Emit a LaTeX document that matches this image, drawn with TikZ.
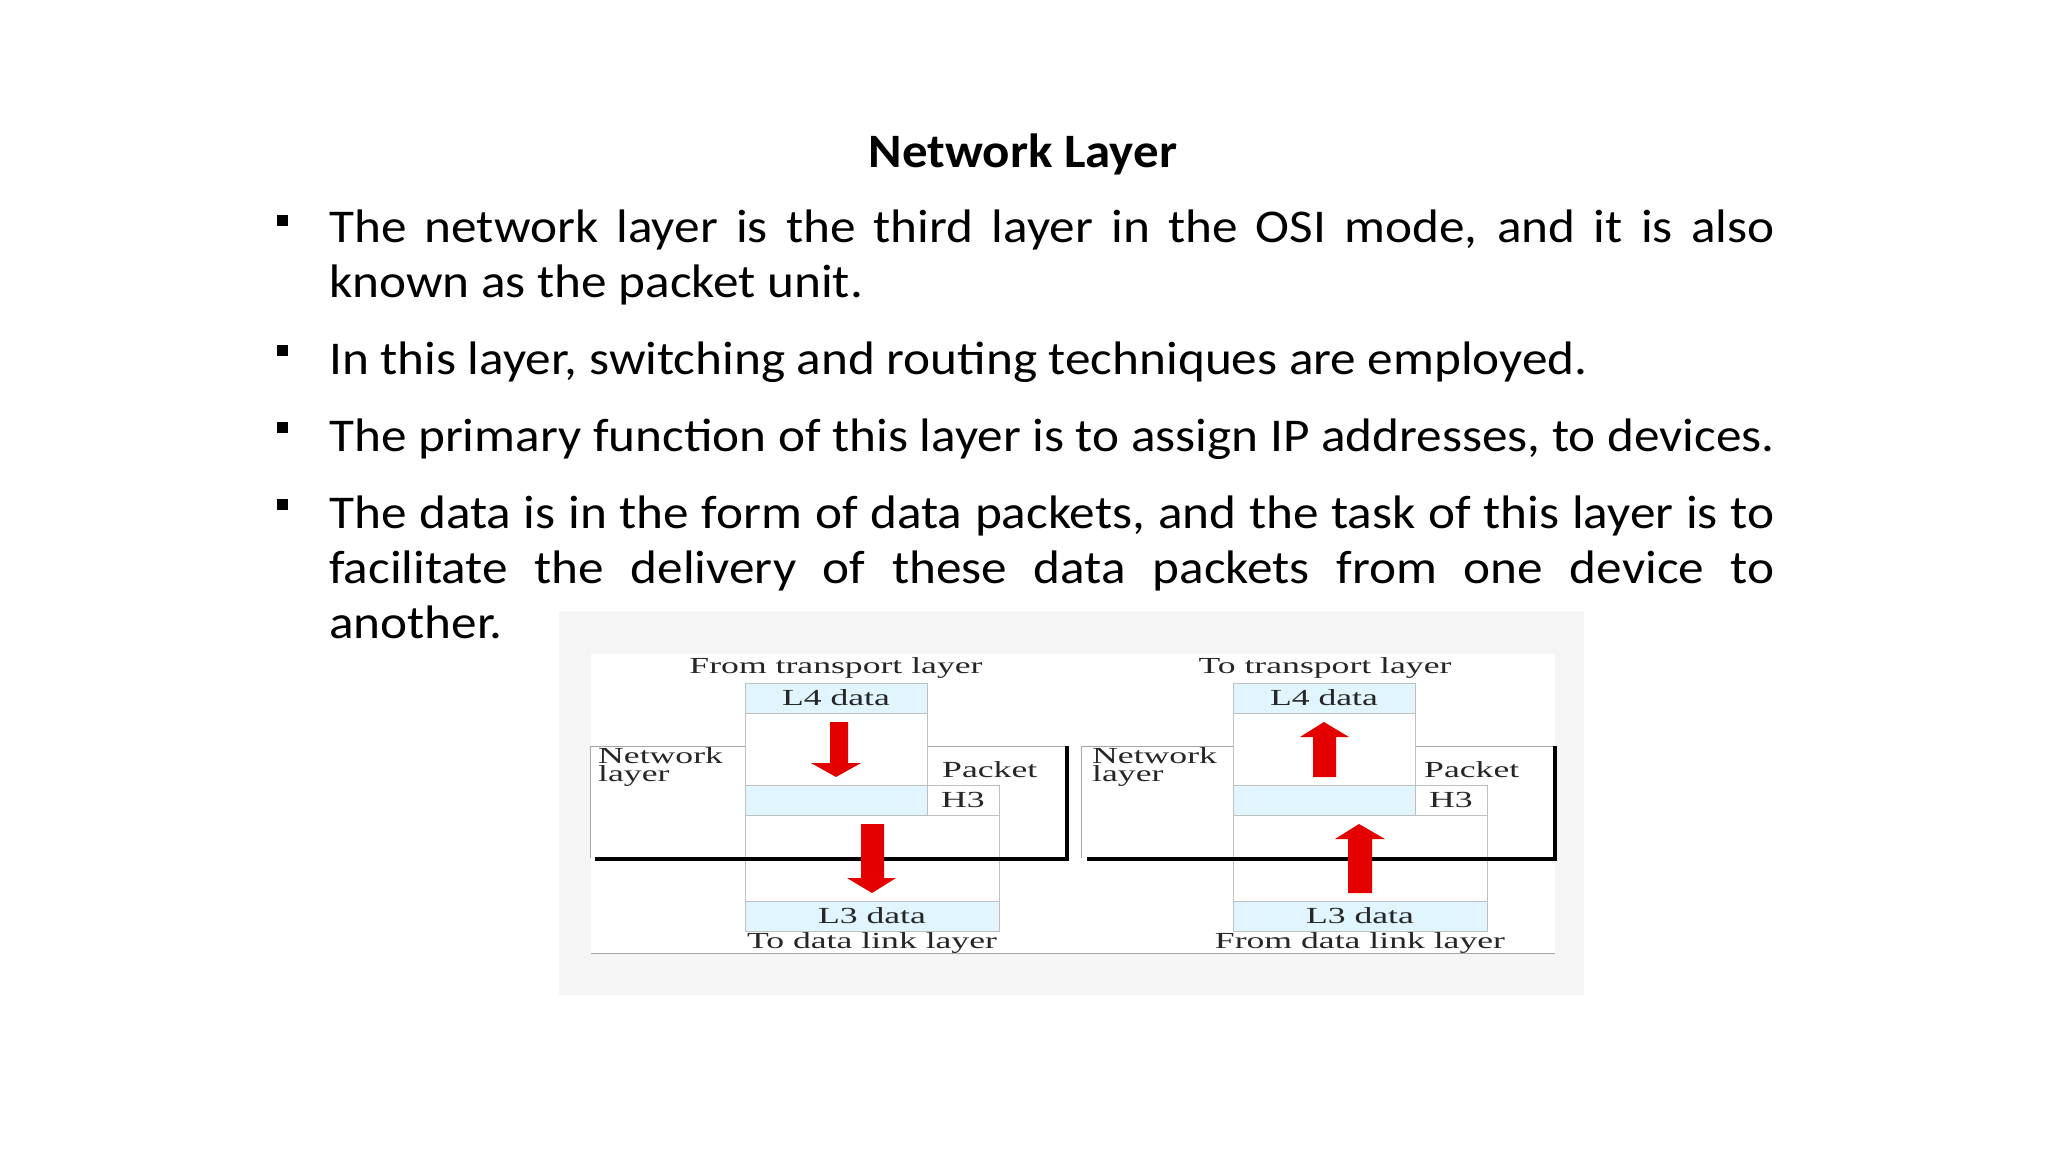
\documentclass[tikz,border=0pt]{standalone}
\usepackage{fontspec}
\setmainfont{Carlito}
\newfontfamily\dserif{Liberation Serif}
\newcommand{\hs}[1]{\scalebox{1.09}[1]{#1}}
\newcommand{\ds}[1]{\scalebox{1.55}[1]{#1}}
\begin{document}
\begin{tikzpicture}[x=1pt,y=-1pt,
  body/.style={anchor=base west,inner sep=0,font=\fontsize{47}{50}\selectfont},
  bul/.style={fill=black,minimum size=11pt,inner sep=0},
  dtxt/.style={inner sep=0,text=black!85,font=\dserif\fontsize{23}{23}\selectfont},
  blue/.style={fill=cyan!12!white,draw=black!25,line width=1pt},
  wbox/.style={fill=white,draw=black!25,line width=1pt},
  thin/.style={draw=black!35,line width=1pt},
  thick/.style={line width=4pt,black},
  red/.style={fill=red!90!black,draw=none}]
\useasboundingbox (0,0) rectangle (2048,1152);
\fill[white] (0,0) rectangle (2048,1152);
\node[inner sep=0,font=\fontsize{48}{50}\selectfont\bfseries] (title) at (1023,154) {\scalebox{1.06}[1]{Network Layer}};
% bullets
\node[bul] (b1) at (282,220) {};
\node[bul] (b2) at (282,350) {};
\node[bul] (b3) at (282,427) {};
\node[bul] (b4) at (282,504) {};
\def\W{1326pt}
\node[body] (l1) at (329,242) {\hs{\makebox[\W][s]{The network layer is the third layer in the OSI mode, and it is also}}};
\node[body] (l2) at (329,297) {\hs{known as the packet unit.}};
\node[body] (l3) at (329,374) {\hs{In this layer, switching and routing techniques are employed.}};
\node[body] (l4) at (329,451) {\hs{The primary function of this layer is to assign IP addresses, to devices.}};
\node[body] (l5) at (329,528) {\hs{\makebox[\W][s]{The data is in the form of data packets, and the task of this layer is to}}};
\node[body] (l6) at (329,583) {\hs{\makebox[\W][s]{facilitate the delivery of these data packets from one device to}}};
\node[body] (l7) at (329,638) {\hs{another.}};
% diagram background
\fill[black!4] (559,611) rectangle (1584,995);
\fill[white] (591,654) rectangle (1555,953);
\draw[thin] (591,953) -- (1555,953);
% ---- left panel
\draw[thin] (590,858) -- (590,746) -- (1067,746);
\draw[wbox] (745,713) rectangle (927,785);
\draw[wbox] (745,815) rectangle (999,901);
\draw[wbox] (927,785) rectangle (999,815);
\node[blue,minimum width=182,minimum height=30,inner sep=0] (l4a) at (836,698) {};
\node[dtxt] at (l4a) {\ds{L4 data}};
\draw[blue] (745,785) rectangle (927,815);
\node[dtxt] (h3a) at (963,800) {\ds{H3}};
\node[blue,minimum width=254,minimum height=30,inner sep=0] (l3a) at (872,916) {};
\node[dtxt] at (l3a) {\ds{L3 data}};
\node[dtxt] (fta) at (836,668) {\ds{From transport layer}};
\node[dtxt] (tda) at (872,943) {\ds{To data link layer}};
\node[dtxt,anchor=west,align=left,font=\dserif\fontsize{23}{16}\selectfont] (nla) at (598,767) {\ds{Network}\\\ds{layer}};
\node[dtxt,anchor=west] (pa) at (942,770) {\ds{Packet}};
\draw[thick] (595,859) -- (1067,859) -- (1067,746);
\fill[red] (830,722) -- (848,722) -- (848,763) -- (861,763) -- (836,777) -- (811,763) -- (830,763) -- cycle;
\fill[red] (861,824) -- (884,824) -- (884,878) -- (896,878) -- (872,893) -- (847,878) -- (861,878) -- cycle;
% ---- right panel
\draw[thin] (1081,858) -- (1081,746) -- (1555,746);
\draw[wbox] (1233,713) rectangle (1415,785);
\draw[wbox] (1233,815) rectangle (1487,901);
\draw[wbox] (1415,785) rectangle (1487,815);
\node[blue,minimum width=182,minimum height=30,inner sep=0] (l4b) at (1324,698) {};
\node[dtxt] at (l4b) {\ds{L4 data}};
\draw[blue] (1233,785) rectangle (1415,815);
\node[dtxt] (h3b) at (1451,800) {\ds{H3}};
\node[blue,minimum width=254,minimum height=30,inner sep=0] (l3b) at (1360,916) {};
\node[dtxt] at (l3b) {\ds{L3 data}};
\node[dtxt] (ttb) at (1325,668) {\ds{To transport layer}};
\node[dtxt] (fdb) at (1360,943) {\ds{From data link layer}};
\node[dtxt,anchor=west,align=left,font=\dserif\fontsize{23}{16}\selectfont] (nlb) at (1092,767) {\ds{Network}\\\ds{layer}};
\node[dtxt,anchor=west] (pb) at (1424,770) {\ds{Packet}};
\draw[thick] (1087,859) -- (1555,859) -- (1555,746);
\fill[red] (1313,777) -- (1336,777) -- (1336,737) -- (1349,737) -- (1324,722) -- (1300,737) -- (1313,737) -- cycle;
\fill[red] (1348,893) -- (1372,893) -- (1372,839) -- (1385,839) -- (1359,824) -- (1335,839) -- (1348,839) -- cycle;
\end{tikzpicture}
\end{document}
